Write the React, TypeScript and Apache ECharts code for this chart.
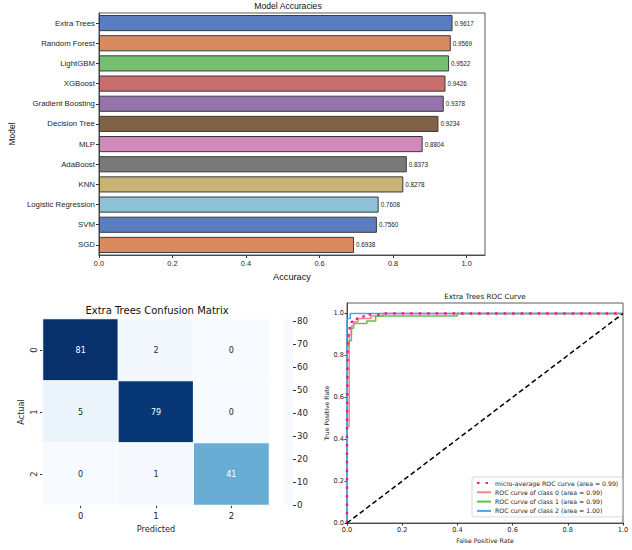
import React, { useEffect, useRef } from 'react';
import * as echarts from 'echarts';

// ---------- data ----------
const models = ['Extra Trees', 'Random Forest', 'LightGBM', 'XGBoost', 'Gradient Boosting', 'Decision Tree', 'MLP', 'AdaBoost', 'KNN', 'Logistic Regression', 'SVM', 'SGD'];
const accuracies = [0.9617, 0.9569, 0.9522, 0.9426, 0.9378, 0.9234, 0.8804, 0.8373, 0.8278, 0.7608, 0.7560, 0.6938];
const accuracyTicks = [0, 0.2, 0.4, 0.6, 0.8, 1.0];

const cmLabels = ['0', '1', '2'];
const cmRow0 = [81, 2, 0];
const cmRow1 = [5, 79, 0];
const cmRow2 = [0, 1, 41];
const colorbarTicks = [0, 10, 20, 30, 40, 50, 60, 70, 80];

const rocTicks = [0, 0.2, 0.4, 0.6, 0.8, 1.0];
const rocNames = [
  'micro-average ROC curve (area = 0.99)',
  'ROC curve of class 0 (area = 0.99)',
  'ROC curve of class 1 (area = 0.99)',
  'ROC curve of class 2 (area = 1.00)',
];
const microRoc = [[0, 0], [0, 0.45], [0.0024, 0.45], [0.0024, 0.86], [0.005, 0.86], [0.005, 0.9], [0.01, 0.9], [0.01, 0.94], [0.017, 0.94], [0.017, 0.96], [0.03, 0.96], [0.03, 0.975], [0.05, 0.975], [0.05, 0.985], [0.07, 0.985], [0.07, 0.995], [0.12, 0.995], [0.12, 1], [1, 1]];
const class0Roc = [[0, 0], [0, 0.46], [0.008, 0.46], [0.008, 0.9], [0.016, 0.9], [0.016, 0.94], [0.024, 0.94], [0.024, 0.96], [0.04, 0.96], [0.04, 0.976], [0.087, 0.976], [0.087, 0.988], [0.13, 0.988], [0.13, 1], [1, 1]];
const class1Roc = [[0, 0], [0, 0.845], [0.008, 0.845], [0.008, 0.87], [0.016, 0.87], [0.016, 0.93], [0.024, 0.93], [0.024, 0.952], [0.072, 0.952], [0.072, 0.964], [0.104, 0.964], [0.104, 0.988], [0.4, 0.988], [0.4, 1], [1, 1]];
const class2Roc = [[0, 0], [0, 0.976], [0.012, 0.976], [0.012, 1], [1, 1]];
const chanceLine = [[0, 0], [1, 1]];

// ---------- styles ----------
const barColors = ['#597dbf', '#d98b5f', '#76bf71', '#c76e6e', '#9475ab', '#826246', '#d08abb', '#797979', '#c7b475', '#8ec1d6', '#597dbf', '#d98b5f'];
const blues = ['#f7fbff', '#deebf7', '#c6dbef', '#9ecae1', '#6baed6', '#4292c6', '#2171b5', '#08519c', '#08306b'];
const rocColors = ['#ff1493', '#f7808c', '#62c146', '#47a6e6'];
const libSans = '"Liberation Sans", Arial, sans-serif';
const dejavu = '"DejaVu Sans", sans-serif';
const ink = '#262626';

export default function App() {
  const ref = useRef<HTMLDivElement>(null);
  useEffect(() => {
    if (!ref.current) return;
    const chart = echarts.init(ref.current, undefined, { renderer: 'svg' });
    const cmRows = [cmRow0, cmRow1, cmRow2];
    const cmMax = Math.max(...cmRows.flat());
    const heatData = cmRows.flatMap((row, r) =>
      row.map((v, c) => ({ value: [c, r, v], label: { color: v > cmMax / 2 ? '#ffffff' : ink } }))
    );
    const gradStops = blues.map((c, i) => ({ offset: 1 - i / (blues.length - 1), color: c }));

    chart.setOption({
      animation: false,
      backgroundColor: '#ffffff',
      graphic: [
        { type: 'text', x: 288, y: 6, style: { text: 'Model Accuracies', fontSize: 8.6, fontFamily: libSans, fill: '#111', align: 'center', verticalAlign: 'middle' } },
        { type: 'text', x: 157, y: 310, style: { text: 'Extra Trees Confusion Matrix', fontSize: 10, fontFamily: dejavu, fill: '#111', align: 'center', verticalAlign: 'middle' } },
        { type: 'text', x: 485, y: 296, style: { text: 'Extra Trees ROC Curve', fontSize: 7.2, fontFamily: dejavu, fill: '#111', align: 'center', verticalAlign: 'middle' } },
      ],
      grid: [
        { left: 91, top: 13, width: 394, height: 242, show: true, borderColor: '#333', borderWidth: 0.8, backgroundColor: 'transparent' },
        { left: 43, top: 319, width: 226, height: 186 },
        { left: 284, top: 319, width: 9, height: 186 },
        { left: 347, top: 303, width: 276, height: 220, show: true, borderColor: '#333', borderWidth: 0.8, backgroundColor: 'transparent' },
      ],
      xAxis: [
        {
          type: 'value', gridIndex: 0, min: 0, max: 1.05,
          name: 'Accuracy', nameLocation: 'middle', nameGap: 17,
          nameTextStyle: { fontSize: 9.2, fontFamily: libSans, color: '#111' },
          axisLine: { show: true, lineStyle: { color: '#333', width: 0.8 } },
          axisTick: { show: true, length: 3, lineStyle: { color: '#333' }, customValues: accuracyTicks },
          axisLabel: { fontSize: 7.4, fontFamily: libSans, color: ink, margin: 5, customValues: accuracyTicks, formatter: (v: number) => v.toFixed(1) },
          splitLine: { show: false },
        },
        {
          type: 'category', gridIndex: 1, data: cmLabels,
          name: 'Predicted', nameLocation: 'middle', nameGap: 20,
          nameTextStyle: { fontSize: 8.2, fontFamily: dejavu, color: ink },
          axisLine: { show: false },
          axisTick: { show: true, alignWithLabel: true, length: 3, lineStyle: { color: '#333' } },
          axisLabel: { fontSize: 8.5, fontFamily: dejavu, color: ink, margin: 6 },
          splitLine: { show: false },
        },
        { type: 'category', gridIndex: 2, data: ['cb'], show: false },
        {
          type: 'value', gridIndex: 3, min: 0, max: 1, interval: 0.2,
          name: 'False Positive Rate', nameLocation: 'middle', nameGap: 14,
          nameTextStyle: { fontSize: 6.2, fontFamily: dejavu, color: ink },
          axisLine: { show: true, lineStyle: { color: '#333', width: 0.8 } },
          axisTick: { show: true, length: 2.5, lineStyle: { color: '#333' } },
          axisLabel: { fontSize: 6.6, fontFamily: dejavu, color: ink, margin: 3, formatter: (v: number) => v.toFixed(1) },
          splitLine: { show: false },
        },
      ],
      yAxis: [
        {
          type: 'category', gridIndex: 0, data: models, inverse: true,
          name: 'Model', nameLocation: 'middle', nameGap: 76,
          nameTextStyle: { fontSize: 8.4, fontFamily: libSans, color: '#111' },
          axisLine: { show: true, lineStyle: { color: '#333', width: 0.8 } },
          axisTick: { show: true, alignWithLabel: true, length: 3, lineStyle: { color: '#333' } },
          axisLabel: { fontSize: 7.8, fontFamily: libSans, color: ink, margin: 4 },
        },
        {
          type: 'category', gridIndex: 1, data: cmLabels, inverse: true,
          name: 'Actual', nameLocation: 'middle', nameGap: 18,
          nameTextStyle: { fontSize: 8.2, fontFamily: dejavu, color: ink },
          axisLine: { show: false },
          axisTick: { show: true, alignWithLabel: true, length: 3, lineStyle: { color: '#333' } },
          axisLabel: { fontSize: 8.5, fontFamily: dejavu, color: ink, rotate: 90, margin: 5 },
        },
        {
          type: 'value', gridIndex: 2, min: 0, max: cmMax, position: 'right',
          axisLine: { show: false },
          axisTick: { show: true, length: 3, lineStyle: { color: '#333' }, customValues: colorbarTicks },
          axisLabel: { fontSize: 8.6, fontFamily: dejavu, color: ink, margin: 4, customValues: colorbarTicks },
          splitLine: { show: false },
        },
        {
          type: 'value', gridIndex: 3, min: 0, max: 1.05,
          name: 'True Positive Rate', nameLocation: 'middle', nameGap: 18,
          nameTextStyle: { fontSize: 6.2, fontFamily: dejavu, color: ink },
          axisLine: { show: true, lineStyle: { color: '#333', width: 0.8 } },
          axisTick: { show: true, length: 2.5, lineStyle: { color: '#333' }, customValues: rocTicks },
          axisLabel: { fontSize: 6.6, fontFamily: dejavu, color: ink, margin: 3, customValues: rocTicks, formatter: (v: number) => v.toFixed(1) },
          splitLine: { show: false },
        },
      ],
      visualMap: {
        type: 'continuous', min: 0, max: cmMax, show: false, seriesIndex: 1,
        inRange: { color: blues },
      },
      legend: {
        data: rocNames,
        left: 472, top: 477, orient: 'vertical',
        itemWidth: 14, itemHeight: 7, itemGap: 3.3,
        padding: [3, 4, 3, 4],
        backgroundColor: '#ffffff', borderColor: '#d0d0d0', borderWidth: 0.8, borderRadius: 2,
        itemStyle: { color: 'rgba(0,0,0,0)', borderWidth: 0 },
        textStyle: { fontSize: 6.2, fontFamily: dejavu, color: ink, padding: [0, 0, 0, -1] },
      },
      series: [
        {
          type: 'bar', xAxisIndex: 0, yAxisIndex: 0, barWidth: '80%',
          data: accuracies.map((v, i) => ({ value: v, itemStyle: { color: barColors[i] } })),
          itemStyle: { borderColor: '#3a3a3a', borderWidth: 1 },
          label: { show: true, position: 'right', distance: 2, fontSize: 6.3, fontFamily: libSans, color: '#222', formatter: (p: any) => Number(p.value).toFixed(4) },
          silent: true,
        },
        {
          type: 'heatmap', xAxisIndex: 1, yAxisIndex: 1,
          data: heatData,
          itemStyle: { borderColor: '#ffffff', borderWidth: 1 },
          label: { show: true, fontSize: 8, fontFamily: dejavu },
          silent: true,
        },
        {
          type: 'bar', xAxisIndex: 2, yAxisIndex: 2, barWidth: '100%',
          data: [cmMax],
          itemStyle: { color: { type: 'linear', x: 0, y: 0, x2: 0, y2: 1, colorStops: gradStops } },
          silent: true,
        },
        {
          name: rocNames[1], type: 'line', xAxisIndex: 3, yAxisIndex: 3, symbol: 'none', data: class0Roc,
          lineStyle: { color: rocColors[1], width: 1.5 }, itemStyle: { color: rocColors[1] }, z: 2,
        },
        {
          name: rocNames[2], type: 'line', xAxisIndex: 3, yAxisIndex: 3, symbol: 'none', data: class1Roc,
          lineStyle: { color: rocColors[2], width: 1.5 }, itemStyle: { color: rocColors[2] }, z: 2,
        },
        {
          name: rocNames[3], type: 'line', xAxisIndex: 3, yAxisIndex: 3, symbol: 'none', data: class2Roc,
          lineStyle: { color: rocColors[3], width: 1.5 }, itemStyle: { color: rocColors[3] }, z: 2,
        },
        {
          name: rocNames[0], type: 'line', xAxisIndex: 3, yAxisIndex: 3, symbol: 'none', data: microRoc,
          lineStyle: { color: rocColors[0], width: 2.5, type: [2.5, 6] }, itemStyle: { color: rocColors[0] }, z: 3,
        },
        {
          type: 'line', xAxisIndex: 3, yAxisIndex: 3, symbol: 'none', data: chanceLine,
          lineStyle: { color: '#000000', width: 1.5, type: [5, 3] }, z: 4, silent: true,
        },
      ],
    });
    return () => chart.dispose();
  }, []);
  return <div ref={ref} style={{ position: 'absolute', left: 0, top: 0, width: 632, height: 550, background: '#fff' }} />;
}
